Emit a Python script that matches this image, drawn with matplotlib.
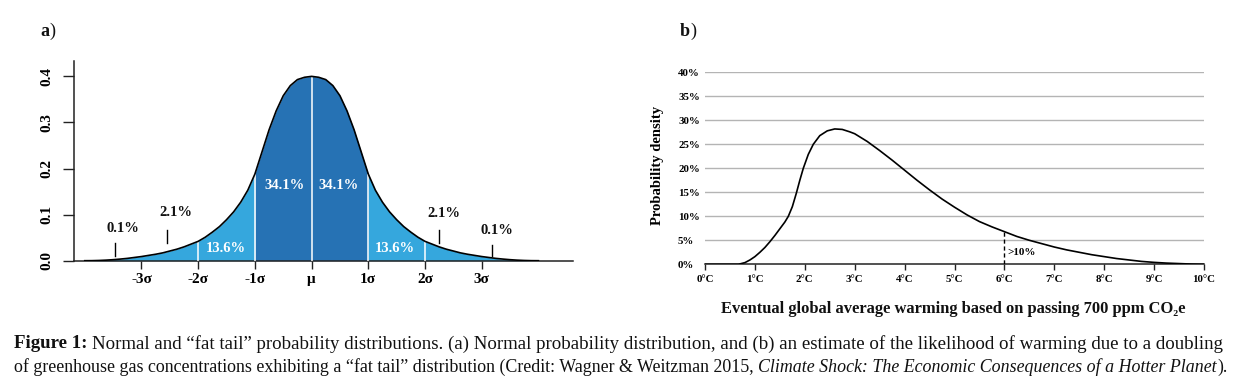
import matplotlib
matplotlib.use('Agg')
import matplotlib.pyplot as plt
import numpy as np

SERIF = ['Liberation Serif', 'DejaVu Serif']
plt.rcParams['font.family'] = SERIF

# ---------------- data: panel a (normal distribution) ----------------
sigma_x = [-4.0, -3.875, -3.75, -3.625, -3.5, -3.375, -3.25, -3.125, -3.0, -2.875, -2.75, -2.625,
           -2.5, -2.375, -2.25, -2.125, -2.0, -1.875, -1.75, -1.625, -1.5, -1.375, -1.25, -1.125,
           -1.0, -0.875, -0.75, -0.625, -0.5, -0.375, -0.25, -0.125, 0.0,
           0.125, 0.25, 0.375, 0.5, 0.625, 0.75, 0.875, 1.0, 1.125, 1.25, 1.375, 1.5, 1.625,
           1.75, 1.875, 2.0, 2.125, 2.25, 2.375, 2.5, 2.625, 2.75, 2.875, 3.0, 3.125, 3.25,
           3.375, 3.5, 3.625, 3.75, 3.875, 4.0]
density = [0.0, 0.0001, 0.0005, 0.0012, 0.0022, 0.0035, 0.005, 0.007, 0.009, 0.0115, 0.014, 0.017,
           0.021, 0.025, 0.030, 0.036, 0.042, 0.051, 0.062, 0.074, 0.089, 0.106, 0.127, 0.153,
           0.188, 0.236, 0.284, 0.325, 0.358, 0.380, 0.393, 0.398, 0.400,
           0.398, 0.393, 0.380, 0.358, 0.325, 0.284, 0.236, 0.188, 0.153, 0.127, 0.106, 0.089, 0.074,
           0.062, 0.051, 0.042, 0.036, 0.030, 0.025, 0.021, 0.017, 0.014, 0.0115, 0.009, 0.007, 0.005,
           0.0035, 0.0022, 0.0012, 0.0005, 0.0001, 0.0]
sigma_ticks = [-3, -2, -1, 0, 1, 2, 3]
sigma_labels = ['-3σ', '-2σ', '-1σ', 'μ', '1σ', '2σ', '3σ']
band_edges = [-2, -1, 0, 1, 2]
a_yticks = [0.0, 0.1, 0.2, 0.3, 0.4]
a_ytick_labels = ['0.0', '0.1', '0.2', '0.3', '0.4']
outer_pct = ['0.1%', '2.1%', '2.1%', '0.1%']
inner_pct = ['13.6%', '34.1%', '34.1%', '13.6%']

# ---------------- data: panel b (fat-tail warming distribution) ----------------
warming_c = [0.0, 0.3, 0.67, 0.8, 0.9, 1.0, 1.1, 1.2, 1.3, 1.4, 1.5, 1.6, 1.67, 1.75, 1.83, 1.9,
             1.97, 2.07, 2.17, 2.3, 2.45, 2.6, 2.75, 2.9, 3.0, 3.25, 3.5, 3.75, 4.0, 4.25, 4.5,
             4.75, 5.0, 5.25, 5.5, 5.75, 6.0, 6.25, 6.5, 6.75, 7.0, 7.25, 7.5, 7.75, 8.0, 8.25,
             8.5, 8.75, 9.0, 9.25, 9.5, 9.75, 10.0]
warming_pdf = [0.0, 0.0, 0.0, 0.35, 0.9, 1.6, 2.5, 3.5, 4.7, 6.0, 7.4, 8.8, 10.0, 12.0, 14.8, 17.5,
               20.0, 22.9, 25.0, 26.8, 27.8, 28.2, 28.1, 27.6, 27.2, 25.6, 23.7, 21.7, 19.6, 17.5, 15.5,
               13.6, 11.9, 10.3, 8.9, 7.8, 6.8, 5.8, 5.0, 4.3, 3.6, 3.0, 2.5, 2.0, 1.6, 1.2,
               0.9, 0.6, 0.4, 0.25, 0.15, 0.05, 0.0]
warming_ticks = [0, 1, 2, 3, 4, 5, 6, 7, 8, 9, 10]
warming_tick_labels = ['0°C', '1°C', '2°C', '3°C', '4°C', '5°C', '6°C', '7°C', '8°C', '9°C', '10°C']
pdf_ticks = [0, 5, 10, 15, 20, 25, 30, 35, 40]
pdf_tick_labels = ['0%', '5%', '10%', '15%', '20%', '25%', '30%', '35%', '40%']
tail_threshold = 6.0
tail_label = '>10%'

DARK = '#2672b4'
LIGHT = '#35a7dd'

W, H = 1258, 386
fig = plt.figure(figsize=(W / 100, H / 100), dpi=100)


def fx(px):
    return px / W


def fy(py):
    return 1 - py / H


# ================= panel a =================
axa = fig.add_axes([fx(74), fy(260.7), fx(573 - 74), (260.7 - 60.7) / H])
sx = np.array(sigma_x)
dy = np.array(density)
axa.fill_between(sx, 0, dy, where=(sx <= -1), color=LIGHT, lw=0)
axa.fill_between(sx, 0, dy, where=(sx >= 1), color=LIGHT, lw=0)
axa.fill_between(sx, 0, dy, where=(sx >= -1) & (sx <= 1), color=DARK, lw=0)
edge_tops = [dy[np.argmin(np.abs(sx - e))] for e in band_edges]
axa.vlines(band_edges, 0, edge_tops, colors='white', lw=1.1, zorder=3)
axa.plot(sx, dy, color='black', lw=1.2, zorder=4, solid_joinstyle='round')
axa.set_xlim(-4.19, 4.61)
axa.set_ylim(0, 0.434)
for s in ['top', 'right']:
    axa.spines[s].set_visible(False)
for s in ['left', 'bottom']:
    axa.spines[s].set_linewidth(1.1)
    axa.spines[s].set_color('#222222')
axa.set_xticks(sigma_ticks)
axa.set_xticklabels(sigma_labels, fontsize=11, fontweight='bold')
axa.set_yticks(a_yticks)
axa.set_yticklabels(a_ytick_labels, fontsize=11, fontweight='bold', rotation=90, va='center')
axa.tick_params(axis='x', length=5.5, width=1, pad=3.5, color='#222222')
axa.tick_params(axis='y', length=7.7, width=1, pad=7.5, color='#222222')

outer_pos = [(-3.33, 0.070), (-2.39, 0.104), (2.33, 0.103), (3.27, 0.065)]
outer_ticks = [(-3.46, 0.010, 0.039), (-2.55, 0.039, 0.067), (2.25, 0.039, 0.067), (3.19, 0.010, 0.034)]
for lab, (x, y), (tx, t0, t1) in zip(outer_pct, outer_pos, outer_ticks):
    axa.text(x, y, lab, ha='center', va='center', fontsize=10.5, fontweight='bold', color='#111111')
    axa.plot([tx, tx], [t0, t1], color='black', lw=1)
inner_pos = [(-1.51, 0.027), (-0.48, 0.164), (0.48, 0.164), (1.47, 0.027)]
for lab, (x, y) in zip(inner_pct, inner_pos):
    axa.text(x, y, lab, ha='center', va='center', fontsize=10.5, fontweight='bold', color='white', zorder=5)

# ================= panel b =================
axb = fig.add_axes([fx(705), fy(264.3), fx(1204 - 705), (264.3 - 72.3) / H])
for g in pdf_ticks[1:]:
    axb.axhline(g, color='#b4b4b4', lw=1, zorder=1)
axb.plot(warming_c, warming_pdf, color='black', lw=1.2, zorder=3, solid_joinstyle='round')
tail_val = warming_pdf[warming_c.index(tail_threshold)]
axb.plot([tail_threshold, tail_threshold], [0, tail_val], color='black', lw=1, ls=(0, (3, 2)), zorder=3)
axb.text(tail_threshold + 0.06, 2.4, tail_label, ha='left', va='center', fontsize=8, fontweight='bold')
axb.set_xlim(0, 10)
axb.set_ylim(0, 40)
for s in ['top', 'right', 'left']:
    axb.spines[s].set_visible(False)
axb.spines['bottom'].set_linewidth(1.1)
axb.spines['bottom'].set_color('#222222')
axb.set_xticks(warming_ticks)
axb.set_xticklabels(warming_tick_labels, fontsize=7.8, fontweight='bold')
axb.set_yticks(pdf_ticks)
axb.set_yticklabels(pdf_tick_labels, fontsize=7.8, fontweight='bold', ha='left')
axb.tick_params(axis='x', length=4.5, width=1, pad=3, color='#222222')
axb.tick_params(axis='y', length=0, pad=19.4)

fig.text(fx(658), fy(165), 'Probability density', rotation=90, ha='center', va='center',
         fontsize=10.5, fontweight='bold')

# ================= texts laid out with the renderer =================
fig.canvas.draw()
renderer = fig.canvas.get_renderer()


def measure(txt, size, weight='normal', style='normal'):
    t = fig.text(0, 0, txt, fontsize=size, fontweight=weight, fontstyle=style, family=SERIF)
    w = t.get_window_extent(renderer).width
    t.remove()
    return w


def space_w(size):
    return measure('x x', size) - measure('xx', size)


def runs_width(runs, size):
    total = 0
    for txt, weight, style, gap in runs:
        total += measure(txt, size, weight, style) + gap * space_w(size)
    return total


def draw_runs(runs, x0, yc, size, color='#111111'):
    x = x0
    for txt, weight, style, gap in runs:
        fig.text(fx(x), fy(yc), txt, fontsize=size, fontweight=weight, fontstyle=style,
                 family=SERIF, ha='left', va='center', color=color)
        x += measure(txt, size, weight, style) + gap * space_w(size)


def fit_size(runs, target, base=11.0):
    return base * target / runs_width(runs, base)


# x label of panel b
xl_runs = [('Eventual global average warming based on passing 700 ppm CO₂e', 'bold', 'normal', 0)]
s_xl = fit_size(xl_runs, 1188 - 721)
draw_runs(xl_runs, 721, 309, s_xl)

# panel letters
draw_runs([('a', 'bold', 'normal', 0), (')', 'normal', 'normal', 0)], 40, 31, 13)
draw_runs([('b', 'bold', 'normal', 0), (')', 'normal', 'normal', 0)], 680, 31, 13)

# caption
line1 = [('Figure 1:', 'bold', 'normal', 1),
         ('Normal and “fat tail” probability distributions. (a) Normal probability distribution, '
          'and (b) an estimate of the likelihood of warming due to a doubling', 'normal', 'normal', 0)]
line2 = [('of greenhouse gas concentrations exhibiting a “fat tail” distribution (Credit: Wagner & Weitzman 2015,',
          'normal', 'normal', 1),
         ('Climate Shock: The Economic Consequences of a Hotter Planet', 'normal', 'italic', 0.15),
         (').', 'normal', 'normal', 0)]
s1 = fit_size(line1, 1222 - 14)
s2 = min(s1, fit_size(line2, 1222 - 14))
draw_runs(line1, 14, 344, s1)
draw_runs(line2, 14, 367, s2)

fig.savefig('out.png', dpi=100)
